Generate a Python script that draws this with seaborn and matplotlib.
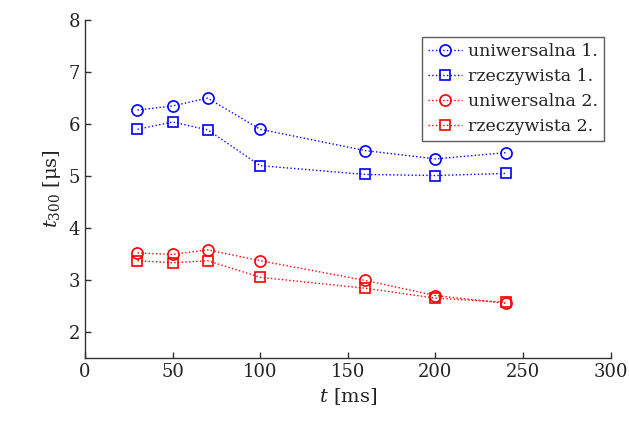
import pandas as pd
import matplotlib
matplotlib.use("Agg")
import matplotlib.pyplot as plt
import seaborn as sns

# Data
t_ms = [30, 50, 70, 100, 160, 200, 240]
uniw_1 = [6.27, 6.35, 6.50, 5.90, 5.49, 5.33, 5.45]
rzecz_1 = [5.90, 6.04, 5.89, 5.20, 5.03, 5.01, 5.05]
uniw_2 = [3.52, 3.49, 3.58, 3.37, 2.99, 2.70, 2.55]
rzecz_2 = [3.37, 3.33, 3.37, 3.05, 2.84, 2.65, 2.57]

series = [
    ("uniwersalna 1.", uniw_1, "blue", "o", 8),
    ("rzeczywista 1.", rzecz_1, "blue", "s", 6.5),
    ("uniwersalna 2.", uniw_2, "red", "o", 8),
    ("rzeczywista 2.", rzecz_2, "red", "s", 6.5),
]

sns.set_style("white")
plt.rcParams['font.family'] = ['DejaVu Serif']
plt.rcParams['mathtext.fontset'] = 'dejavuserif'

fig = plt.figure(figsize=(6.29, 4.21), dpi=100)
ax = fig.add_axes([0.135, 0.15, 0.836, 0.802])

for name, vals, col, mk, ms in series:
    df = pd.DataFrame({"t": t_ms, "v": vals})
    sns.lineplot(data=df, x="t", y="v", ax=ax, color=col, marker=mk,
                 linestyle=":", linewidth=1.0, markersize=ms,
                 markerfacecolor="none", markeredgecolor=col,
                 markeredgewidth=1.2, label=name)

ax.set_xlim(0, 300)
ax.set_ylim(1.5, 8)
ax.set_xticks(range(0, 301, 50))
ax.set_yticks(range(2, 9))
ax.tick_params(direction="in", length=4, width=1.0, labelsize=13,
               color="#333333", labelcolor="#222222", bottom=True, left=True)
for side in ["top", "right"]:
    ax.spines[side].set_visible(False)
for side in ["left", "bottom"]:
    ax.spines[side].set_color("#333333")
    ax.spines[side].set_linewidth(1.0)

ax.set_xlabel("$t$ [ms]", fontsize=14, color="#222222")
ax.set_ylabel("$t_{300}$ [μs]", fontsize=14, color="#222222")

leg = ax.legend(loc="upper right", fontsize=12.5, frameon=True, fancybox=False,
                borderpad=0.35, labelspacing=0.45, handlelength=2.0,
                handletextpad=0.3, bbox_to_anchor=(1.003, 0.975))
leg.get_frame().set_edgecolor("#333333")
leg.get_frame().set_linewidth(1.0)
for txt in leg.get_texts():
    txt.set_color("#222222")

fig.savefig("out.png", dpi=100)
